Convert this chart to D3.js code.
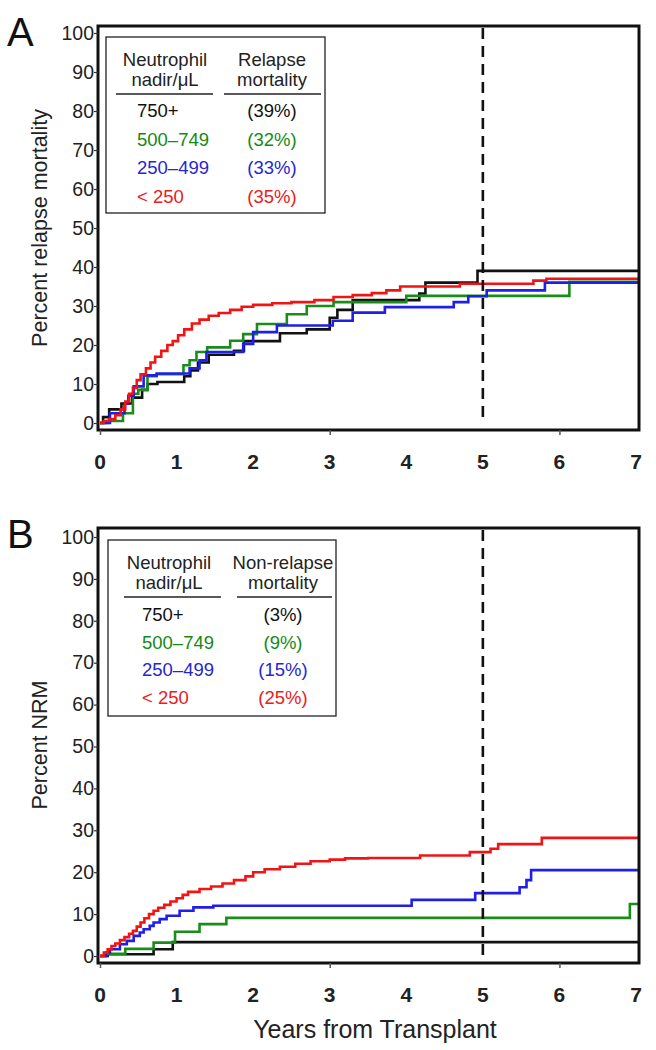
<!DOCTYPE html>
<html><head><meta charset="utf-8">
<script src="https://cdn.jsdelivr.net/npm/d3@7"></script>
<style>body{margin:0;background:#fff}svg{display:block}</style>
</head><body>
<script>
// ---------- DATA ----------
const xTicks = [0,1,2,3,4,5,6,7];
const xTickMarks = [0,3,6];
const yTicks = [0,10,20,30,40,50,60,70,80,90,100];
const groups = ["750+","500–749","250–499","< 250"];
const relapsePct = ["(39%)","(32%)","(33%)","(35%)"];
const nrmPct = ["(3%)","(9%)","(15%)","(25%)"];
const landmarkYear = 5;

// Panel A: relapse mortality (years, percent), step functions
const relapse750 = [[0,0],[0.04,1.5],[0.12,3.5],[0.28,5],[0.42,6.5],[0.55,8.5],[0.62,10],[0.75,10.5],[1.1,12],[1.18,13.5],[1.28,15.5],[1.42,17.5],[1.75,18.5],[1.88,21],[2.35,23],[2.7,24],[3.0,27],[3.1,29],[3.3,31.5],[4.17,33.2],[4.25,36],[4.93,39],[7.05,39]];
const relapse500 = [[0,0],[0.1,0.5],[0.3,2.5],[0.43,7.5],[0.5,8.5],[0.62,12],[0.74,12.5],[1.09,14.8],[1.17,16.1],[1.26,18.2],[1.4,19.4],[1.7,21.1],[1.87,22.8],[2.05,25.4],[2.44,27.9],[2.7,30],[3.05,31],[4.0,32.6],[6.13,36.2],[7.05,36.2]];
const relapse250 = [[0,0],[0.13,2.5],[0.32,5],[0.37,7],[0.44,9.4],[0.57,12.2],[0.74,12.7],[1.17,14],[1.3,16.1],[1.39,18.2],[1.87,20.3],[2.0,23.3],[2.31,25],[3.04,26.2],[3.3,28.3],[3.72,29.7],[4.62,31],[4.81,32.5],[5.05,34],[5.81,36],[7.05,36]];
const relapseLow = [[0,0],[0.05,0.5],[0.12,1],[0.2,2],[0.27,3.5],[0.33,5.5],[0.38,7.5],[0.43,9],[0.48,11],[0.53,12.5],[0.6,14],[0.66,15.5],[0.72,17],[0.8,18.5],[0.88,20],[0.95,21],[1.02,22.5],[1.1,24],[1.2,25.5],[1.3,26.5],[1.42,27.5],[1.55,28.2],[1.7,29],[1.85,29.8],[2.0,30.3],[2.25,30.7],[2.5,31],[2.8,31.5],[3.05,32.3],[3.3,32.8],[3.55,33.3],[3.74,34],[3.92,35],[4.7,35.7],[5.66,36.5],[5.83,37],[7.05,37]];

// Panel B: non-relapse mortality
const nrm750 = [[0,0],[0.1,0.4],[0.7,1.6],[0.95,3.3],[7.05,3.3]];
const nrm500 = [[0,0],[0.08,0.5],[0.33,1.7],[0.7,3.2],[0.98,5.8],[1.3,7.6],[1.65,9.1],[6.92,12.4],[7.05,12.4]];
const nrm250 = [[0,0],[0.08,0.8],[0.13,1.6],[0.26,2.8],[0.35,3.6],[0.44,4.8],[0.52,5.6],[0.57,6.4],[0.65,7.2],[0.7,8.0],[0.78,8.8],[0.87,9.6],[1.04,10.8],[1.22,11.6],[1.48,12.0],[4.07,13.4],[4.9,15],[5.48,16.4],[5.57,18.1],[5.63,20.5],[7.05,20.5]];
const nrmLow = [[0,0],[0.05,0.8],[0.1,1.6],[0.15,2.4],[0.2,3.0],[0.26,3.8],[0.32,4.5],[0.38,5.3],[0.43,6.0],[0.48,7.0],[0.53,8.0],[0.58,9.0],[0.64,10],[0.7,10.8],[0.76,11.5],[0.84,12.2],[0.92,13],[1.0,13.8],[1.08,14.6],[1.15,15.3],[1.3,16],[1.45,16.6],[1.6,17.3],[1.75,18.1],[1.9,19],[2.0,20],[2.15,20.7],[2.35,21.3],[2.55,22],[2.75,22.6],[3.0,23],[3.2,23.3],[3.5,23.4],[4.18,24],[4.83,24.8],[5.1,25.6],[5.2,26.7],[5.77,28.2],[7.05,28.2]];

const colors = ["#111111","#1a8c1a","#1f1fe6","#f01414"];
const textColors = ["#111111","#138a13","#2626d0","#e82020"];

// ---------- DRAW ----------
const W = 656, H = 1050;
const svg = d3.select("body").append("svg").attr("width",W).attr("height",H);
const font = "Liberation Sans, Arial, sans-serif";

function panel(cfg){
  const g = svg.append("g");
  const x = d3.scaleLinear().domain([0,7]).range([100,636]);
  const y = d3.scaleLinear().domain([0,100]).range([cfg.y0,cfg.y100]);
  const fx0 = 98, fx1 = 639, fy0 = cfg.frameTop, fy1 = cfg.frameBottom;

  const clipId = "clip"+cfg.id;
  svg.append("clipPath").attr("id",clipId).append("rect")
    .attr("x",fx0).attr("y",fy0).attr("width",fx1-fx0).attr("height",fy1-fy0);

  // curves
  const line = d3.line().x(d=>x(d[0])).y(d=>y(d[1])).curve(d3.curveStepAfter);
  const cg = g.append("g").attr("clip-path","url(#"+clipId+")");
  cfg.series.forEach((s,i)=>{
    cg.append("path").datum(s).attr("d",line).attr("fill","none")
      .attr("stroke",colors[i]).attr("stroke-width",2.6).attr("stroke-linejoin","miter");
  });

  // dashed landmark line
  g.append("line").attr("x1",x(landmarkYear)).attr("x2",x(landmarkYear))
    .attr("y1",fy0+2).attr("y2",fy1-6).attr("stroke","#111").attr("stroke-width",2.6)
    .attr("stroke-dasharray","11,7");

  // frame
  g.append("rect").attr("x",fx0).attr("y",fy0).attr("width",fx1-fx0).attr("height",fy1-fy0)
    .attr("fill","none").attr("stroke","#111").attr("stroke-width",3);

  // y axis ticks and labels
  const ya = d3.axisLeft(y).tickValues(yTicks).tickSize(4).tickPadding(1);
  const yg = g.append("g").attr("transform","translate("+fx0+",0)").call(ya);
  yg.select(".domain").remove();
  yg.selectAll("line").attr("stroke","#333").attr("stroke-width",1.2);
  yg.selectAll("text").attr("font-family",font).attr("font-size",19.5).attr("fill","#222").attr("dx","0.05em");

  // x tick marks (only a few), x labels
  const xa = d3.axisBottom(x).tickValues(xTickMarks).tickSize(5).tickFormat("");
  const xg = g.append("g").attr("transform","translate(0,"+fy1+")").call(xa);
  xg.select(".domain").remove();
  xg.selectAll("line").attr("stroke","#555").attr("stroke-width",1.5);
  g.selectAll(".xl").data(xTicks).enter().append("text")
    .attr("x",d=>x(d)).attr("y",fy1+39).attr("text-anchor","middle")
    .attr("font-family","Liberation Sans Narrow, Arial Narrow, sans-serif").attr("font-weight","bold")
    .attr("font-size",21).attr("fill","#222").text(d=>d);

  // panel letter
  g.append("text").attr("x",7).attr("y",cfg.letterY).attr("font-family",font)
    .attr("font-size",40).attr("fill","#111").text(cfg.letter);

  // y title
  g.append("text").attr("transform","translate(47,"+cfg.titleY+") rotate(-90)")
    .attr("text-anchor","middle").attr("font-family",font).attr("font-size",21.5)
    .attr("fill","#222").text(cfg.yTitle);

  // legend
  const L = cfg.legend;
  g.append("rect").attr("x",L.x).attr("y",L.y).attr("width",L.w).attr("height",L.h)
    .attr("fill","#fff").attr("stroke","#222").attr("stroke-width",1.3);
  const lt = (tx,ty,str,anchor,col)=>g.append("text").attr("x",tx).attr("y",ty)
    .attr("text-anchor",anchor).attr("font-family",font).attr("font-size",18.5)
    .attr("fill",col).text(str);
  lt(L.c1,L.h1,"Neutrophil","middle","#222");
  lt(L.c1,L.h1+20,"nadir/μL","middle","#222");
  lt(L.c2,L.h1,cfg.head2[0],"middle","#222");
  lt(L.c2,L.h1+20,cfg.head2[1],"middle","#222");
  g.append("line").attr("x1",L.u1[0]).attr("x2",L.u1[1]).attr("y1",L.uy).attr("y2",L.uy).attr("stroke","#222").attr("stroke-width",1.5);
  g.append("line").attr("x1",L.u2[0]).attr("x2",L.u2[1]).attr("y1",L.uy).attr("y2",L.uy).attr("stroke","#222").attr("stroke-width",1.5);
  groups.forEach((gr,i)=>{
    lt(L.gx,L.r0+i*L.dr,gr,"start",textColors[i]);
    lt(L.c2,L.r0+i*L.dr,cfg.pct[i],"middle",textColors[i]);
  });
}

panel({id:"A",letter:"A",letterY:46,y0:423,y100:33,frameTop:26,frameBottom:430,
  series:[relapse750,relapse500,relapse250,relapseLow],
  titleY:228,yTitle:"Percent relapse mortality",head2:["Relapse","mortality"],pct:relapsePct,
  legend:{x:106,y:37,w:219,h:176,c1:165,c2:272,h1:66,uy:94,u1:[116,213],u2:[224,321],gx:137,r0:117,dr:28.5}});

panel({id:"B",letter:"B",letterY:548,y0:956,y100:537,frameTop:528,frameBottom:963,
  series:[nrm750,nrm500,nrm250,nrmLow],
  titleY:745,yTitle:"Percent NRM",head2:["Non-relapse","mortality"],pct:nrmPct,
  legend:{x:108,y:540,w:228,h:176,c1:169,c2:283,h1:569,uy:597,u1:[124,221],u2:[237,332],gx:142,r0:621,dr:27.5}});

svg.append("text").attr("x",375).attr("y",1038).attr("text-anchor","middle")
  .attr("font-family",font).attr("font-size",25).attr("fill","#222").text("Years from Transplant");
</script>
</body></html>
